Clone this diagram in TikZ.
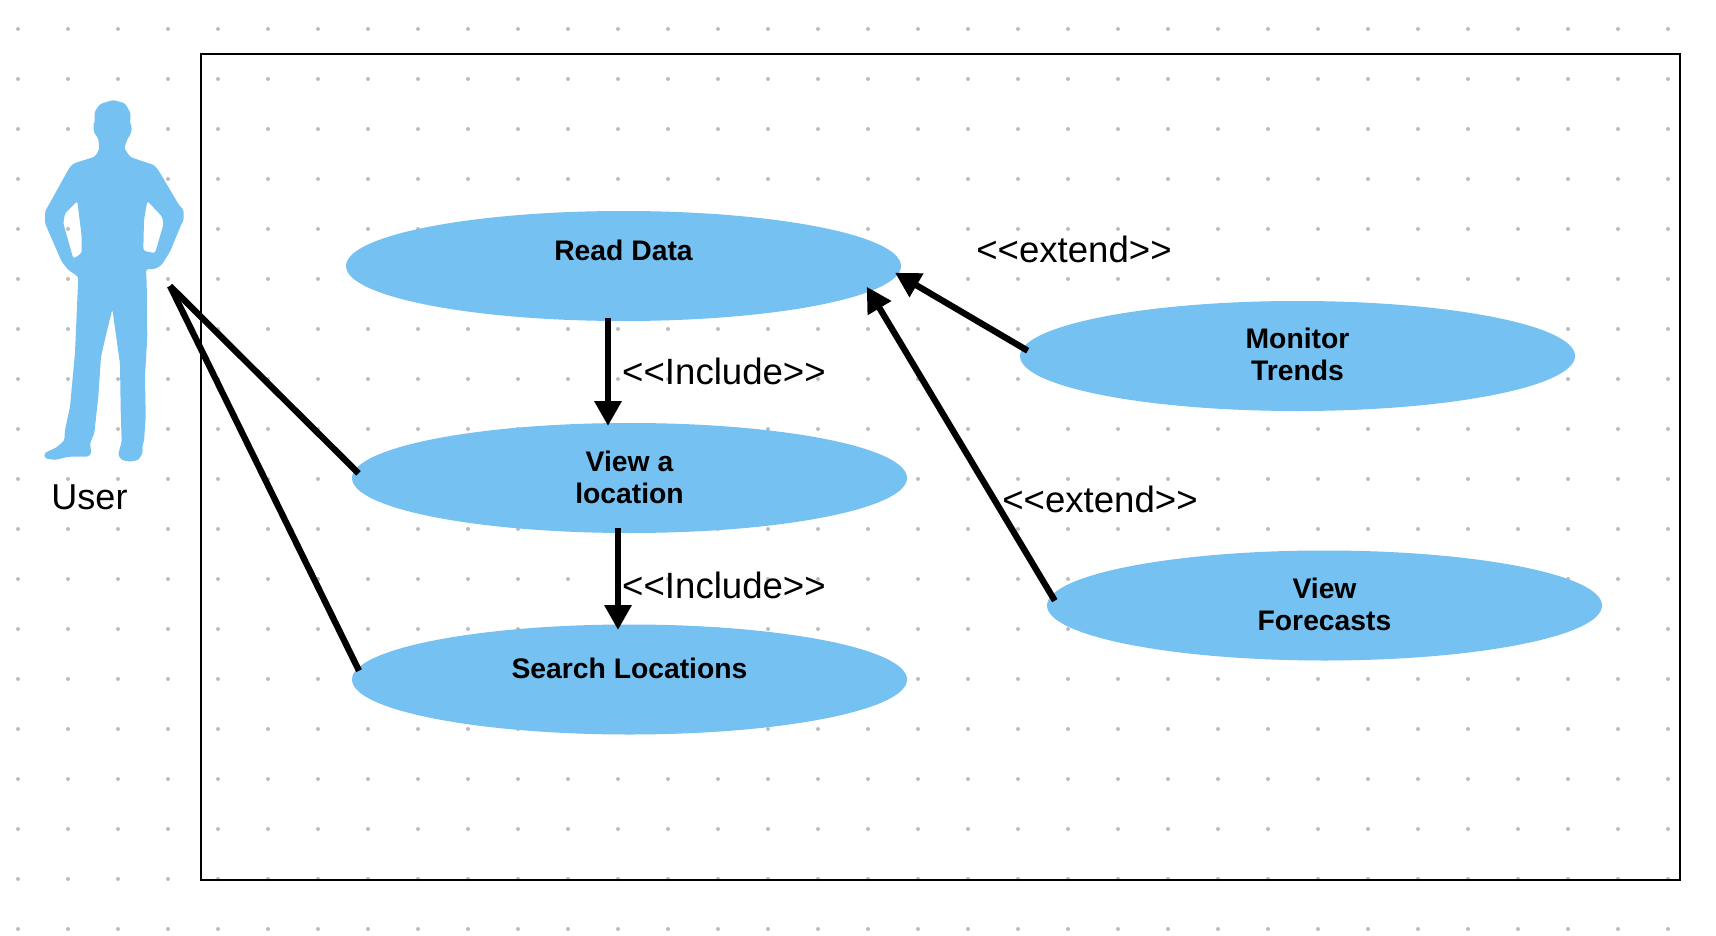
\documentclass[tikz,border=0pt]{standalone}
\usepackage{fontspec}
\setmainfont{Liberation Sans}
\usetikzlibrary{shapes.geometric,arrows.meta}
\definecolor{ucblue}{HTML}{75C1F2}
\definecolor{dotgray}{HTML}{BDBDBD}
\newcommand\uclabelone[2]{\raisebox{#1}[0pt][0pt]{\makebox[0pt]{#2}}}
\newcommand\uclabeltwo[3]{\raisebox{#1}[0pt][0pt]{\makebox[0pt]{\raisebox{32pt}{\makebox[0pt]{#2}}\makebox[0pt]{#3}}}}
\tikzset{
  usecase/.style={ellipse,fill=ucblue,draw=none,inner sep=0pt,outer sep=0pt,minimum width=555pt,minimum height=110pt,font=\bfseries\fontsize{28.3}{32}\selectfont,text=black},
  stereo/.style={anchor=base,inner sep=0pt,font=\fontsize{36.6}{40}\selectfont,text=black},
  actorbox/.style={rectangle,draw=none,fill=none,inner sep=0pt,minimum width=140pt,minimum height=362pt},
  assoc/.style={draw=black,line width=6.3pt},
  relation/.style={assoc,-{Triangle[length=25pt,width=26pt]}},
  frameline/.style={draw=black,line width=2.2pt}
}
\begin{document}
\begin{tikzpicture}[x=1pt,y=-1pt]
\useasboundingbox (0,0) rectangle (1716,936);
\fill[white] (0,0) rectangle (1716,936);
% dotted page grid
\fill[dotgray] foreach \x in {18,68,...,1668}{ foreach \y in {29,79,...,929}{ (\x,\y) circle[radius=2pt] } };
% system frame
\draw[frameline] (201,54) rectangle (1680,880.2);
% actor silhouette
\node[actorbox] (actor) at (114,280) {};
\fill[ucblue,even odd rule,rounded corners=2.5pt]
  (113.3,100) -- (125,103.3) -- (130.7,113.3) -- (130,124) -- (132,126.7) -- (130.7,134) -- (127.3,139.3)
  -- (124.3,148.3) -- (128.3,154.3) -- (130.7,157.3) -- (154,165) -- (158.3,170) -- (179,205) -- (183.7,210)
  -- (183.7,220) -- (181,225) -- (170,251.7) -- (161.7,265) -- (155,269) -- (146,269) -- (146.7,283.3)
  -- (147.3,336.7) -- (145,376.7) -- (145.7,416.7) -- (144,441.7) -- (142.3,445) -- (142.7,453.3)
  -- (138.3,460) -- (130,461.7) -- (121.7,460) -- (118,455) -- (121.7,441.7) -- (120.7,410) -- (120,363.3)
  -- (112.3,309.3) -- (106,335) -- (101,356.7) -- (98.3,396.7) -- (94.3,433.3) -- (90,443.3) -- (91.3,453.3)
  -- (88.3,456.7) -- (68.3,456.7) -- (55,460) -- (45,458.3) -- (44,453.3) -- (56.7,447.3) -- (64.3,440.7)
  -- (65,430) -- (70,406.7) -- (75,353) -- (78.3,276.7) -- (68.3,270) -- (61.7,261.7) -- (45,223.3)
  -- (45,211.7) -- (70,166.7) -- (74,163.3) -- (95,156.7) -- (99.3,149.3) -- (98.3,138.3) -- (94,132.7)
  -- (93.3,125) -- (94.7,123.3) -- (94.7,111.7) -- (100,104) -- cycle
  (77.3,201) -- (81.7,236.7) -- (81.7,253.3) -- (73.3,258.7) -- (63.3,223.3) -- (65,213.3) -- cycle
  (147.3,201) -- (162.3,216.7) -- (163.3,225) -- (155,253.3) -- (143.3,250.7) -- (144,220) -- cycle;
\node[stereo,font=\fontsize{36}{40}\selectfont] (userlabel) at (89.5,509) {User};
% use cases
\node[usecase] (read) at (623.5,266) {\uclabelone{5.8pt}{Read Data}};
\node[usecase] (view) at (629.5,478) {\uclabeltwo{-25pt}{View a}{location}};
\node[usecase] (search) at (629.5,679.5) {\uclabelone{0.8pt}{Search Locations}};
\node[usecase] (monitor) at (1297.5,356) {\uclabeltwo{-24.7pt}{Monitor}{Trends}};
\node[usecase] (forecast) at (1324.5,605.5) {\uclabeltwo{-25.2pt}{View}{Forecasts}};
% connectors
\draw[assoc] ([shift={(56,6)}]actor.center) -- ([shift={(-271,-4.7)}]view.center);
\draw[assoc] ([shift={(56,6)}]actor.center) -- ([shift={(-270.5,-8.8)}]search.center);
\draw[relation] ([shift={(-15.5,52)}]read.center) -- ([shift={(-21.5,-52)}]view.center);
\draw[relation] ([shift={(-11.5,50)}]view.center) -- ([shift={(-11.5,-49.5)}]search.center);
\draw[relation] ([shift={(-269.8,-5.3)}]monitor.center) -- ([shift={(271.5,6.7)}]read.center);
\draw[relation] ([shift={(-269.7,-4.8)}]forecast.center) -- ([shift={(243.2,20.7)}]read.center);
% stereotype labels
\node[stereo] (inc1) at (724,384.3) {<{}<Include>{}>};
\node[stereo] (inc2) at (724,598) {<{}<Include>{}>};
\node[stereo] (ext1) at (1074,262.7) {<{}<extend>{}>};
\node[stereo] (ext2) at (1100,512.7) {<{}<extend>{}>};
\end{tikzpicture}
\end{document}
